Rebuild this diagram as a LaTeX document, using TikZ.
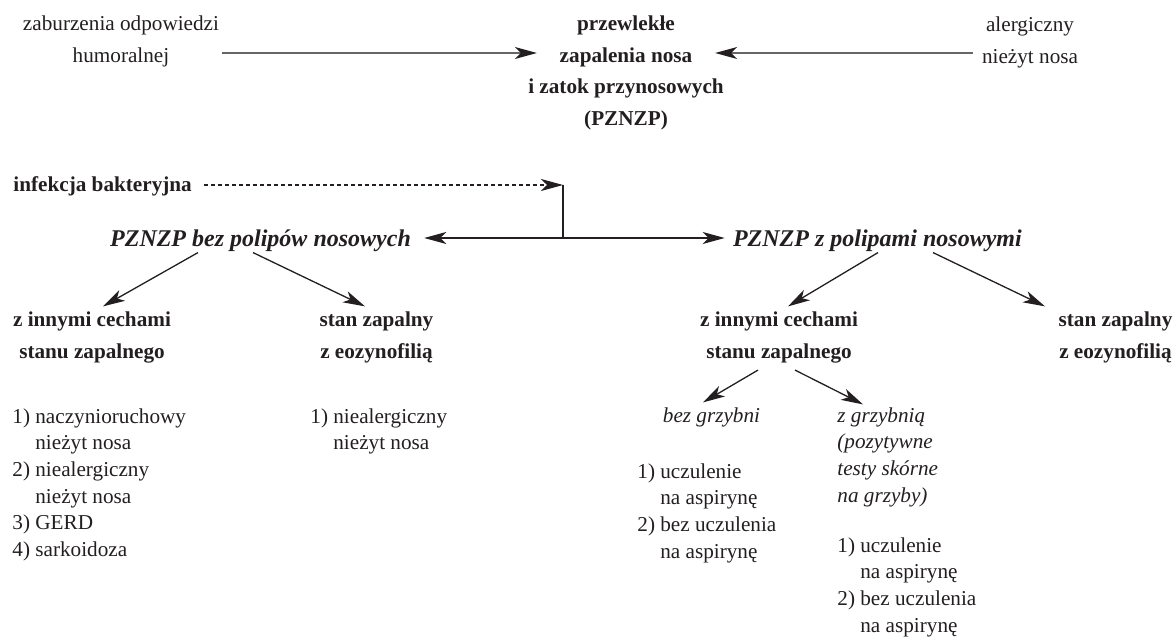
\documentclass[tikz,border=0pt]{standalone}
\usepackage{fontspec}
\setmainfont{Liberation Serif}
\usetikzlibrary{arrows.meta, calc}
\definecolor{tusz}{HTML}{231F20}
\newcommand{\wc}{\hphantom{1)}~}

\begin{document}
\begin{tikzpicture}[x=0.5pt, y=-0.5pt, >={Stealth[length=11pt, width=6pt, inset=3pt]},
    every node/.style={inner sep=0pt, text=tusz},
    zwykly/.style={font=\fontsize{10.6}{16}\selectfont, align=center, anchor=base},
    gruby/.style={font=\fontsize{10.6}{15.8}\selectfont\bfseries, align=center, anchor=base},
    naglowek/.style={font=\fontsize{12}{14}\selectfont\bfseries\itshape, anchor=base},
    lista/.style={font=\fontsize{10.6}{13.35}\selectfont, align=left, anchor=base west},
    kursywa/.style={lista, font=\fontsize{10.6}{13.35}\selectfont\itshape},
    strz/.style={->, draw=tusz, line width=0.65pt},
    szara/.style={strz, draw=black!60, -{Stealth[length=11pt, width=6pt, inset=3pt, color=tusz]}},
  ]
    \useasboundingbox (0,0) rectangle (1176,641);

    \node[zwykly] (zab)   at (121,62.5)   {zaburzenia odpowiedzi\\humoralnej};
    \node[gruby]  (pz)    at (626,125.5)  {przewlekłe\\zapalenia nosa\\i zatok przynosowych\\(PZNZP)};
    \node[zwykly] (alerg) at (1030,63.5)  {alergiczny\\nieżyt nosa};

    \node[gruby, anchor=base west] (inf) at (13,192) {infekcja bakteryjna};
    \node[naglowek] (bez)  at (260.5,247) {PZNZP bez polipów nosowych};
    \node[naglowek] (zpol) at (877.4,247) {PZNZP z polipami nosowymi};

    \node[gruby] (inn1) at (92,358.6)     {z innymi cechami\\stanu zapalnego};
    \node[gruby] (eoz1) at (376.5,358.6)  {stan zapalny\\z eozynofilią};
    \node[gruby] (inn2) at (779,358.6)    {z innymi cechami\\stanu zapalnego};
    \node[gruby] (eoz2) at (1115.5,358.6) {stan zapalny\\z eozynofilią};

    \node[lista] (lista1) at (12,556.5) {1) naczynioruchowy\\\wc nieżyt nosa\\2) niealergiczny\\\wc nieżyt nosa\\3) GERD\\4) sarkoidoza};
    \node[lista] (lista2) at (310,449.7) {1) niealergiczny\\\wc nieżyt nosa};
    \node[kursywa, anchor=base] (bezg) at (711.5,422) {bez grzybni};
    \node[kursywa] (zgrz) at (837,502.1) {z grzybnią\\(pozytywne\\testy skórne\\na grzyby)};
    \node[lista] (lista3) at (637,558.1) {1) uczulenie\\\wc na aspirynę\\2) bez uczulenia\\\wc na aspirynę};
    \node[lista] (lista4) at (837,632.1) {1) uczulenie\\\wc na aspirynę\\2) bez uczulenia\\\wc na aspirynę};

    \coordinate (poz) at (0,53);
    \draw[szara, shorten <=1.5pt, shorten >=-4.5pt] (zab.east |- poz) -- (pz.west |- poz);
    \draw[szara, shorten <=4.5pt, shorten >=-4.5pt] (alerg.west |- poz) -- (pz.east |- poz);

    \coordinate (kol) at (563,185);
    \coordinate (wez) at (563,238);
    \draw[strz, dash pattern=on 2pt off 1.5pt, shorten <=6pt] (inf.east |- kol) -- (kol);
    \draw[tusz, line width=0.65pt] (kol) -- (wez);
    \draw[strz, shorten >=6.5pt] (wez) -- (bez.east |- wez);
    \draw[strz, shorten >=4pt] (wez) -- (zpol.west |- wez);

    \foreach \a/\da/\b/\db in {bez/-62.5/inn1/11, bez/-7.5/eoz1/-11.5, zpol/0.6/inn2/9, zpol/55.6/eoz2/-70.5} {
      \draw[strz] ($(\a.south)+(\da,0)$) -- ($(\b.north)+(\db,-5.5)$);
    }
    \draw[strz] ($(inn2.south)+(-21,6.4)$) -- ($(bezg.north)+(-8.5,-4.5)$);
    \draw[strz] ($(inn2.south)+(16,6.4)$) -- ($(zgrz.north west)+(26,-2.5)$);
  \end{tikzpicture}
\end{document}
